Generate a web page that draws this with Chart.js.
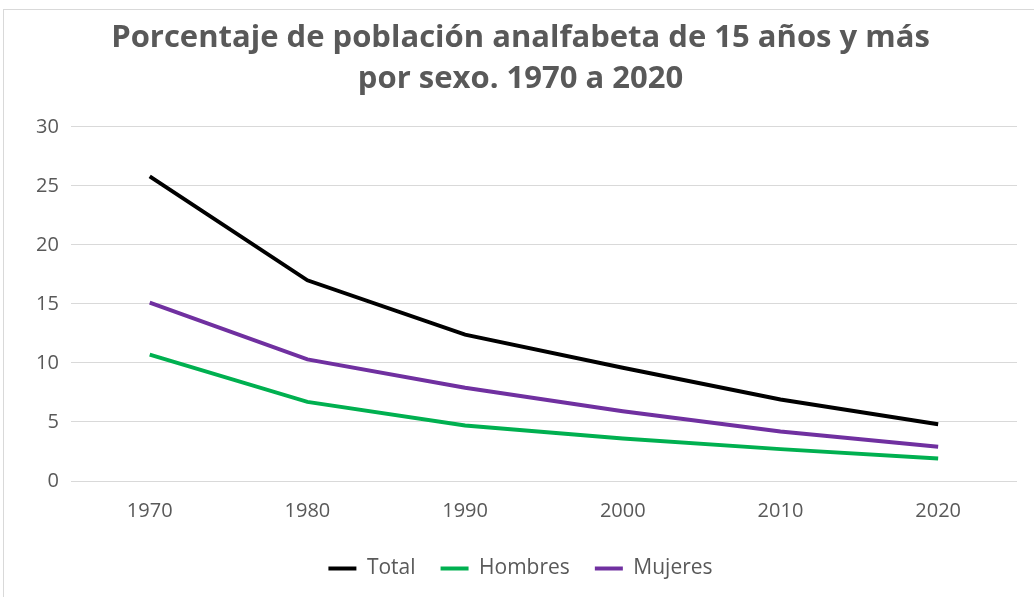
<!DOCTYPE html>
<html>
<head>
<meta charset="utf-8">
<script src="https://cdn.jsdelivr.net/npm/chart.js@4/dist/chart.umd.min.js"></script>
<style>
  html, body { margin: 0; padding: 0; background: #fff; }
  #frame { position: absolute; left: 3px; top: 9px; width: 1040px; height: 600px; border: 1px solid #d9d9d9; }
  #wrap { position: absolute; left: 0; top: 0; width: 1034px; height: 597px; }
</style>
</head>
<body>
<div id="frame"></div>
<div id="wrap"><canvas id="lineChart"></canvas></div>
<script>
    'use strict'

    var years = ['1970', '1980', '1990', '2000', '2010', '2020']
    var total = [25.8, 17.0, 12.4, 9.6, 6.9, 4.8]
    var hombres = [10.7, 6.7, 4.7, 3.6, 2.7, 1.9]
    var mujeres = [15.1, 10.3, 7.9, 5.9, 4.2, 2.9]

    var gray = '#595959'
    Chart.defaults.font.family = '"Open Sans", "Noto Sans", sans-serif'

    var lineCtx = document.getElementById('lineChart').getContext('2d')
    var lineData = {
        labels: years,
        datasets: [{
            label: 'Total',
            data: total,
            borderColor: '#000000',
            backgroundColor: '#000000'
        }, {
            label: 'Hombres',
            data: hombres,
            borderColor: '#00b050',
            backgroundColor: '#00b050'
        }, {
            label: 'Mujeres',
            data: mujeres,
            borderColor: '#7030a0',
            backgroundColor: '#7030a0'
        }]
    }
    var lineOptions = {
        responsive: true,
        maintainAspectRatio: false,
        animation: false,
        elements: {
            line: { borderWidth: 4, tension: 0 },
            point: { radius: 0, hoverRadius: 0, borderWidth: 4 }
        },
        layout: {
            padding: { left: 24, right: 17, top: 18, bottom: 8 }
        },
        plugins: {
            title: {
                display: true,
                text: ['Porcentaje de población analfabeta de 15 años y más', 'por sexo. 1970 a 2020'],
                color: gray,
                font: { size: 31, weight: 'bold', lineHeight: 1.32 },
                padding: { top: 0, bottom: 27 }
            },
            legend: {
                position: 'bottom',
                labels: {
                    usePointStyle: true,
                    pointStyle: 'line',
                    pointStyleWidth: 28,
                    color: gray,
                    font: { size: 21 },
                    padding: 25
                }
            },
            tooltip: { enabled: false }
        },
        scales: {
            y: {
                min: 0,
                max: 30,
                border: { display: false },
                ticks: { stepSize: 5, color: gray, font: { size: 20 }, padding: 12 },
                grid: { color: '#d9d9d9', lineWidth: 1, drawTicks: false }
            },
            x: {
                offset: true,
                border: { display: false },
                ticks: { color: gray, font: { size: 20 }, padding: 10 },
                grid: { display: false }
            }
        }
    }
    var lineChart = new Chart(lineCtx, {
        type: 'line',
        data: lineData,
        options: lineOptions
    })
</script>
</body>
</html>
